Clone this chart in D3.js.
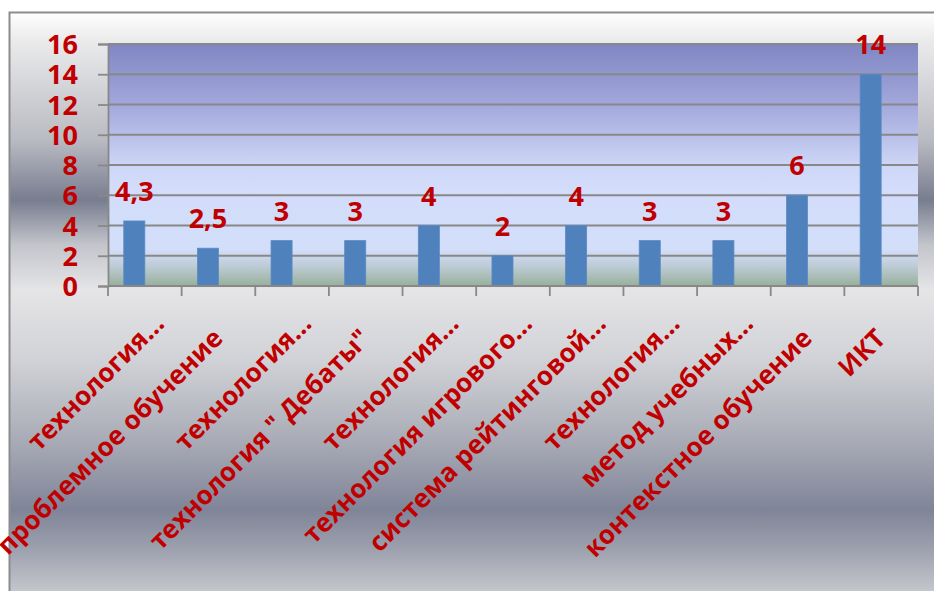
<!DOCTYPE html>
<html>
<head>
<meta charset="utf-8">
<script src="https://cdnjs.cloudflare.com/ajax/libs/d3/7.8.5/d3.min.js"></script>
<style>
  html, body { margin: 0; padding: 0; background: #fff; }
  svg { display: block; }
  text { font-family: "Open Sans", "Noto Sans", sans-serif; font-weight: bold; fill: #C00000; }
</style>
</head>
<body>
<div id="chart"></div>
<script>
// chart data
const categories = [
  "технология...",
  "проблемное обучение",
  "технология...",
  "технология \" Дебаты\"",
  "технология...",
  "технология игрового...",
  "система рейтинговой...",
  "технология...",
  "метод учебных...",
  "контекстное обучение",
  "ИКТ"
];
const values = [4.3, 2.5, 3, 3, 4, 2, 4, 3, 3, 6, 14];
const valueLabels = ["4,3", "2,5", "3", "3", "4", "2", "4", "3", "3", "6", "14"];
const yTicks = [0, 2, 4, 6, 8, 10, 12, 14, 16];
// the workbook has a second, empty series, so each bar sits left of its slot centre
const seriesSlots = ["Ряд1", "Ряд2"];

const width = 934;
const height = 591;
const plot = { left: 108, top: 44, right: 918, bottom: 286 };

const svg = d3.select("#chart")
  .append("svg")
  .attr("width", width)
  .attr("height", height);

const defs = svg.append("defs");

// outer chart area: metallic grey gradient
const outerGrad = defs.append("linearGradient")
  .attr("id", "outerGrad")
  .attr("gradientUnits", "userSpaceOnUse")
  .attr("x1", 0).attr("y1", 12).attr("x2", 0).attr("y2", 591);
[
  [12, "#ffffff"], [40, "#ebebec"], [140, "#b9bbc2"], [200, "#787d8f"],
  [245, "#c3c5cb"], [290, "#e5e5e7"], [360, "#d1d2d7"], [440, "#a9acb6"],
  [510, "#7f8498"], [548, "#9ca0ad"], [591, "#c4c6cc"]
].forEach(([y, c]) => outerGrad.append("stop")
  .attr("offset", (y - 12) / (591 - 12)).attr("stop-color", c));

// plot area: purple-blue to pale blue to grey-green
const plotGrad = defs.append("linearGradient")
  .attr("id", "plotGrad")
  .attr("x1", 0).attr("y1", 0).attr("x2", 0).attr("y2", 1);
[
  [0, "#8086c2"], [0.25, "#a2a8db"], [0.5, "#cdd6f6"], [0.6, "#d3ddfb"],
  [0.85, "#d2defa"], [0.92, "#bccbd4"], [1, "#98b09b"]
].forEach(([o, c]) => plotGrad.append("stop").attr("offset", o).attr("stop-color", c));

svg.append("rect")
  .attr("x", 9.5).attr("y", 12.5)
  .attr("width", width).attr("height", height)
  .attr("fill", "url(#outerGrad)")
  .attr("stroke", "#8c8c8c")
  .attr("stroke-width", 2);

const x = d3.scaleBand()
  .domain(d3.range(categories.length))
  .range([plot.left, plot.right])
  .padding(0);

const xSlot = d3.scaleBand()
  .domain(seriesSlots)
  .range([0, x.bandwidth()])
  .paddingInner(0)
  .paddingOuter(0.75);

const y = d3.scaleLinear()
  .domain([0, 16])
  .range([plot.bottom, plot.top]);

svg.append("rect")
  .attr("x", plot.left).attr("y", plot.top)
  .attr("width", plot.right - plot.left)
  .attr("height", plot.bottom - plot.top)
  .attr("fill", "url(#plotGrad)");

// gridlines
svg.append("g")
  .selectAll("line")
  .data(yTicks.filter(t => t > 0))
  .join("line")
  .attr("x1", plot.left).attr("x2", plot.right)
  .attr("y1", d => y(d)).attr("y2", d => y(d))
  .attr("stroke", "#888888")
  .attr("stroke-width", 1.8);

// y axis
const yAxis = svg.append("g")
  .attr("transform", `translate(${plot.left},0)`)
  .call(d3.axisLeft(y).tickValues(yTicks).tickSize(10).tickPadding(20));
yAxis.select(".domain").attr("stroke", "#888888").attr("stroke-width", 1.8);
yAxis.selectAll(".tick line").attr("stroke", "#888888").attr("stroke-width", 1.8);
yAxis.selectAll(".tick text")
  .attr("fill", "#C00000")
  .attr("dy", "0.36em")
  .style("font-size", "27px")
  .style("font-family", "'Open Sans', sans-serif")
  .style("font-weight", "bold");

// bars
svg.append("g")
  .selectAll("rect")
  .data(values)
  .join("rect")
  .attr("x", (d, i) => x(i) + xSlot("Ряд1"))
  .attr("y", d => y(d))
  .attr("width", xSlot.bandwidth())
  .attr("height", d => y(0) - y(d))
  .attr("fill", "#4f81bd")
  .attr("stroke", "#5a8ac4")
  .attr("stroke-width", 0.8);

// value labels
svg.append("g")
  .selectAll("text")
  .data(values)
  .join("text")
  .attr("x", (d, i) => x(i) + xSlot("Ряд1") + xSlot.bandwidth() / 2)
  .attr("y", d => y(d) - 20)
  .attr("text-anchor", "middle")
  .style("font-size", "27px")
  .text((d, i) => valueLabels[i]);

// x axis line and category ticks
const xAxisG = svg.append("g");
xAxisG.append("line")
  .attr("x1", plot.left).attr("x2", plot.right)
  .attr("y1", plot.bottom).attr("y2", plot.bottom)
  .attr("stroke", "#888888").attr("stroke-width", 1.8);
xAxisG.selectAll("line.tick")
  .data(d3.range(categories.length + 1))
  .join("line")
  .attr("class", "tick")
  .attr("x1", i => i < categories.length ? x(i) : plot.right)
  .attr("x2", i => i < categories.length ? x(i) : plot.right)
  .attr("y1", plot.bottom).attr("y2", plot.bottom + 10)
  .attr("stroke", "#888888").attr("stroke-width", 1.8);

// rotated category labels
xAxisG.selectAll("text")
  .data(categories)
  .join("text")
  .attr("transform", (d, i) => `translate(${x(i) + x.bandwidth() / 2 + 6}, 340) rotate(-45)`)
  .attr("text-anchor", "end")
  .attr("dx", d => d.endsWith("...") ? 21 : 0)
  .style("font-size", "26px")
  .text(d => d);
</script>
</body>
</html>
